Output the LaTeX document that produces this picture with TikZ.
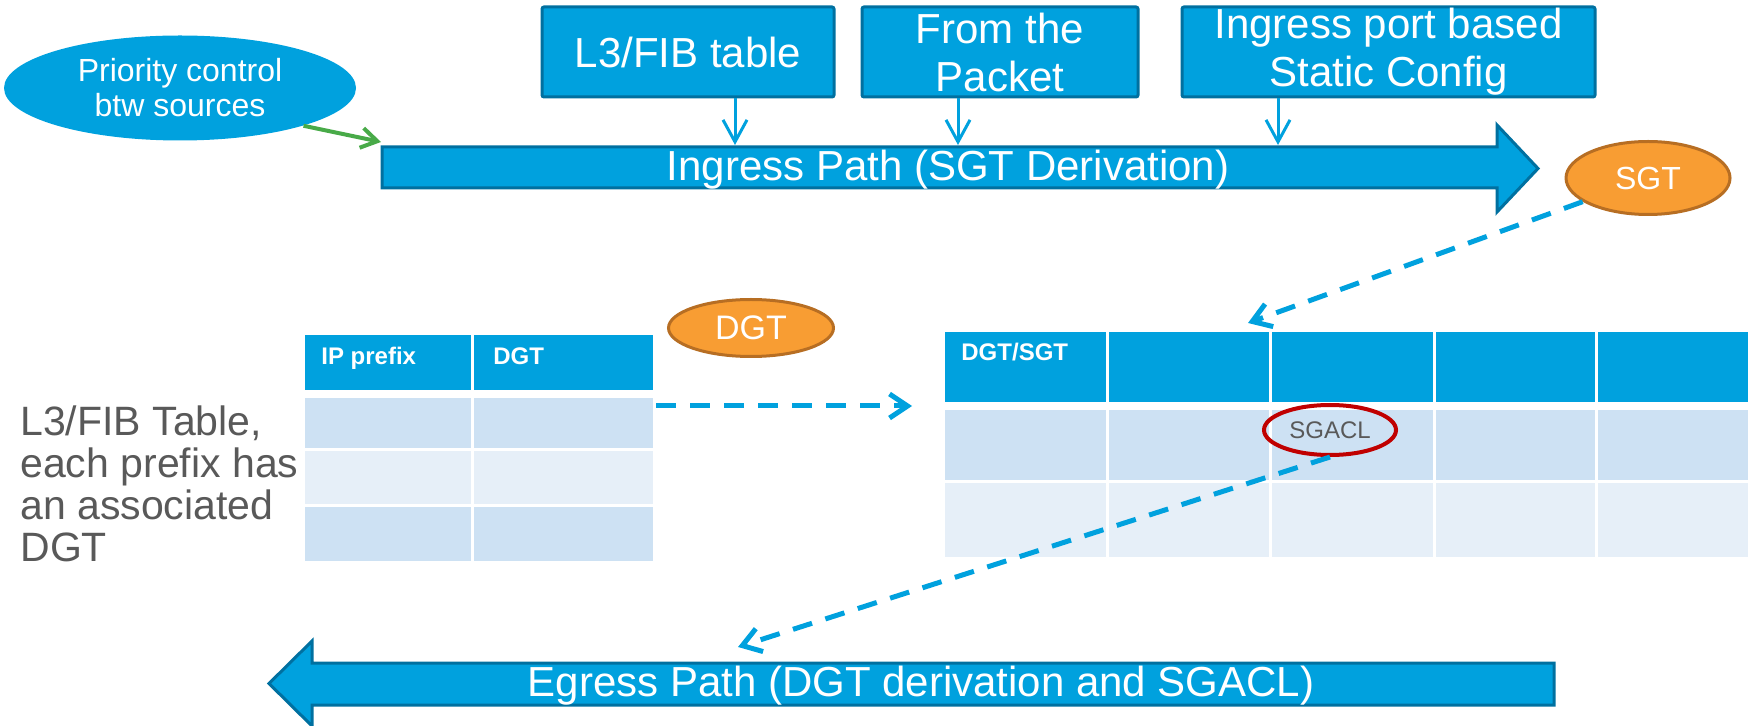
\documentclass[tikz,border=0pt]{standalone}
\usepackage{fontspec}
\setmainfont{Liberation Sans}
\usetikzlibrary{arrows.meta,shapes.geometric}

\definecolor{cblue}{RGB}{0,161,222}
\definecolor{cedge}{RGB}{0,112,160}
\definecolor{rowa}{RGB}{205,225,243}
\definecolor{rowb}{RGB}{230,239,248}
\definecolor{oface}{RGB}{248,157,51}
\definecolor{oedge}{RGB}{183,110,35}
\definecolor{cgreen}{RGB}{72,170,72}
\definecolor{cred}{RGB}{192,0,0}
\definecolor{cgray}{RGB}{89,89,89}

\begin{document}
\begin{tikzpicture}[x=0.5pt,y=-0.5pt,
    topbox/.style={draw=cedge,fill=cblue,line width=1.5pt,rounded corners=1pt,minimum height=45pt,inner sep=0pt,text=white,align=center,font=\fontsize{21}{24}\selectfont},
    bigarrow/.style={draw=cedge,fill=cblue,line width=1.5pt},
    tag/.style={ellipse,draw=oedge,fill=oface,line width=1.5pt,inner sep=0pt,text=white},
    downarr/.style={cblue,line width=1.5pt,-{Straight Barb[length=11pt,width=12pt]}},
    dasharr/.style={cblue,line width=2.5pt,dash pattern=on 10pt off 7pt,-{Straight Barb[length=9pt,width=12pt]}},
    hdrtext/.style={anchor=base west,inner sep=0pt,text=white,font=\bfseries\fontsize{12}{14}\selectfont}]
    \useasboundingbox (0,0) rectangle (1748,726);

    % Sources of the SGT
    \node[topbox,minimum width=146pt] (fib) at (688,52) {L3/FIB table};
    \node[topbox,minimum width=138pt] (pkt) at (1000,52) {From the\\Packet};
    \node[topbox,minimum width=206.5pt] (port) at (1388.5,52) {Ingress port based\\Static Config};
    \node[ellipse,fill=cblue,inner sep=0pt,minimum width=176pt,minimum height=52.5pt,text=white,align=center,
        font=\fontsize{16}{17.5}\selectfont] (prio) at (180,88) {Priority control\\btw sources};

    % Ingress arrow
    \draw[bigarrow] (382,147) -- (1497,147) -- (1497,125) -- (1538,168.5) -- (1497,212) -- (1497,188) -- (382,188) -- cycle;
    \node[text=white,font=\fontsize{21}{24}\selectfont] (ingress) at (948,170) {Ingress Path (SGT Derivation)};
    \coordinate (in1) at (735,145);
    \coordinate (in2) at (958,145);
    \coordinate (in3) at (1278,145);
    \coordinate (ingin) at (381,142);
    \draw[downarr] (fib.south -| in1) -- (in1);
    \draw[downarr] (pkt.south -| in2) -- (in2);
    \draw[downarr] (port.south -| in3) -- (in3);
    \draw[cgreen,line width=2pt,-{Straight Barb[length=8pt,width=10pt]}] (prio.-17) -- (ingin);

    % Tags
    \node[tag,minimum width=82pt,minimum height=36.5pt,font=\fontsize{16}{18}\selectfont] (sgt) at (1648,178) {SGT};
    \node[tag,minimum width=82.5pt,minimum height=28.5pt,font=\fontsize{17}{19}\selectfont] (dgt) at (751,328) {DGT};

    % L3/FIB table
    \fill[cblue] (305,335) rectangle (653,390);
    \fill[rowa] (305,398) rectangle (653,448);
    \fill[rowb] (305,451) rectangle (653,504);
    \fill[rowa] (305,507) rectangle (653,561);
    \draw[white,line width=1.5pt] (472.5,335) -- (472.5,561);
    \node[hdrtext] (ipcol) at (321,365) {IP prefix};
    \node[hdrtext] (dgtcol) at (493,365) {DGT};
    \node[anchor=west,inner sep=0pt,align=left,text=cgray,font=\fontsize{20.5}{21}\selectfont] (fibnote) at (20,484)
        {L3/FIB Table,\\each prefix has\\an associated\\DGT};

    % DGT/SGT matrix
    \fill[cblue] (945,332) rectangle (1748,402);
    \fill[rowa] (945,410) rectangle (1748,480);
    \fill[rowb] (945,483) rectangle (1748,557);
    \foreach \cx in {1107,1270,1434,1596}
        \draw[white,line width=1.5pt] (\cx,332) -- (\cx,557);
    \node[hdrtext] (matcol) at (961,361) {DGT/SGT};
    \node[ellipse,draw=cred,line width=2pt,inner sep=0pt,minimum width=66pt,minimum height=25pt,text=cgray,
        font=\fontsize{12}{14}\selectfont] (sgacl) at (1330,430) {SGACL};

    % Egress arrow
    \draw[bigarrow] (1554,663) -- (312,663) -- (312,641) -- (269,683.5) -- (312,726) -- (312,705) -- (1554,705) -- cycle;
    \node[text=white,font=\fontsize{21}{24}\selectfont] (egress) at (921,686) {Egress Path (DGT derivation and SGACL)};

    % Dashed links
    \coordinate (fibout) at (656,406);
    \coordinate (matin) at (912,406);
    \coordinate (sgtin) at (1248,323);
    \coordinate (egin) at (738,647);
    \draw[dasharr] (fibout) -- (matin);
    \draw[dasharr] (sgt) -- (sgtin);
    \draw[dasharr] (sgacl.south) -- (egin);
\end{tikzpicture}
\end{document}
